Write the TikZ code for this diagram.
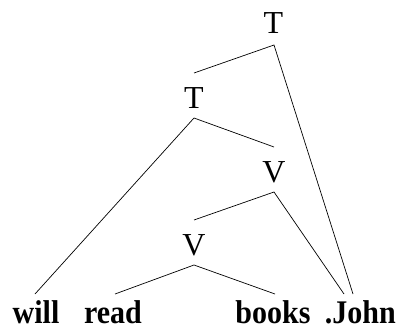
\documentclass[tikz,border=0pt]{standalone}
\usepackage{fontspec}
\setmainfont{Liberation Serif}
\newcommand\tallword[1]{\scalebox{1}[1.1]{#1}}
\begin{document}
\begin{tikzpicture}[x=1pt,y=-1pt,
  cat/.style={font=\fontsize{32}{32}\selectfont, inner sep=0pt, anchor=base},
  word/.style={font=\fontsize{30}{30}\selectfont\bfseries, inner sep=0pt, anchor=base},
  branch/.style={line width=0.7pt}]
\useasboundingbox (0,0) rectangle (396,329);
% categories
\node[cat] (T1) at (273.5,34) {T};
\node[cat] (T2) at (194,108) {T};
\node[cat] (V1) at (274,182) {V};
\node[cat] (V2) at (194,255) {V};
% words
\node[word] (will) at (36,323.5) {\tallword{will}};
\node[word] (read) at (113,323.5) {\tallword{read}};
\node[word] (books) at (273,323.5) {\tallword{books}};
\node[word, anchor=base east] (john) at (396,323.5) {\tallword{.John}};
% branch points
\coordinate (t1a) at (274,45);
\coordinate (t2a) at (194,118);
\coordinate (v1a) at (274,192);
\coordinate (v2a) at (194,265);
\coordinate (t1l) at (194,73);
\coordinate (t2r) at (274,147);
\coordinate (v1l) at (194,220);
\coordinate (willt) at (35,294);
\coordinate (readt) at (115,294);
\coordinate (bookst) at (275,294);
\coordinate (johnt1) at (353,294);
\coordinate (johnt2) at (344,294);
% branches
\draw[branch] (t1l) -- (t1a) -- (johnt1);
\draw[branch] (willt) -- (t2a) -- (t2r);
\draw[branch] (v1l) -- (v1a) -- (johnt2);
\draw[branch] (readt) -- (v2a) -- (bookst);
\end{tikzpicture}
\end{document}
